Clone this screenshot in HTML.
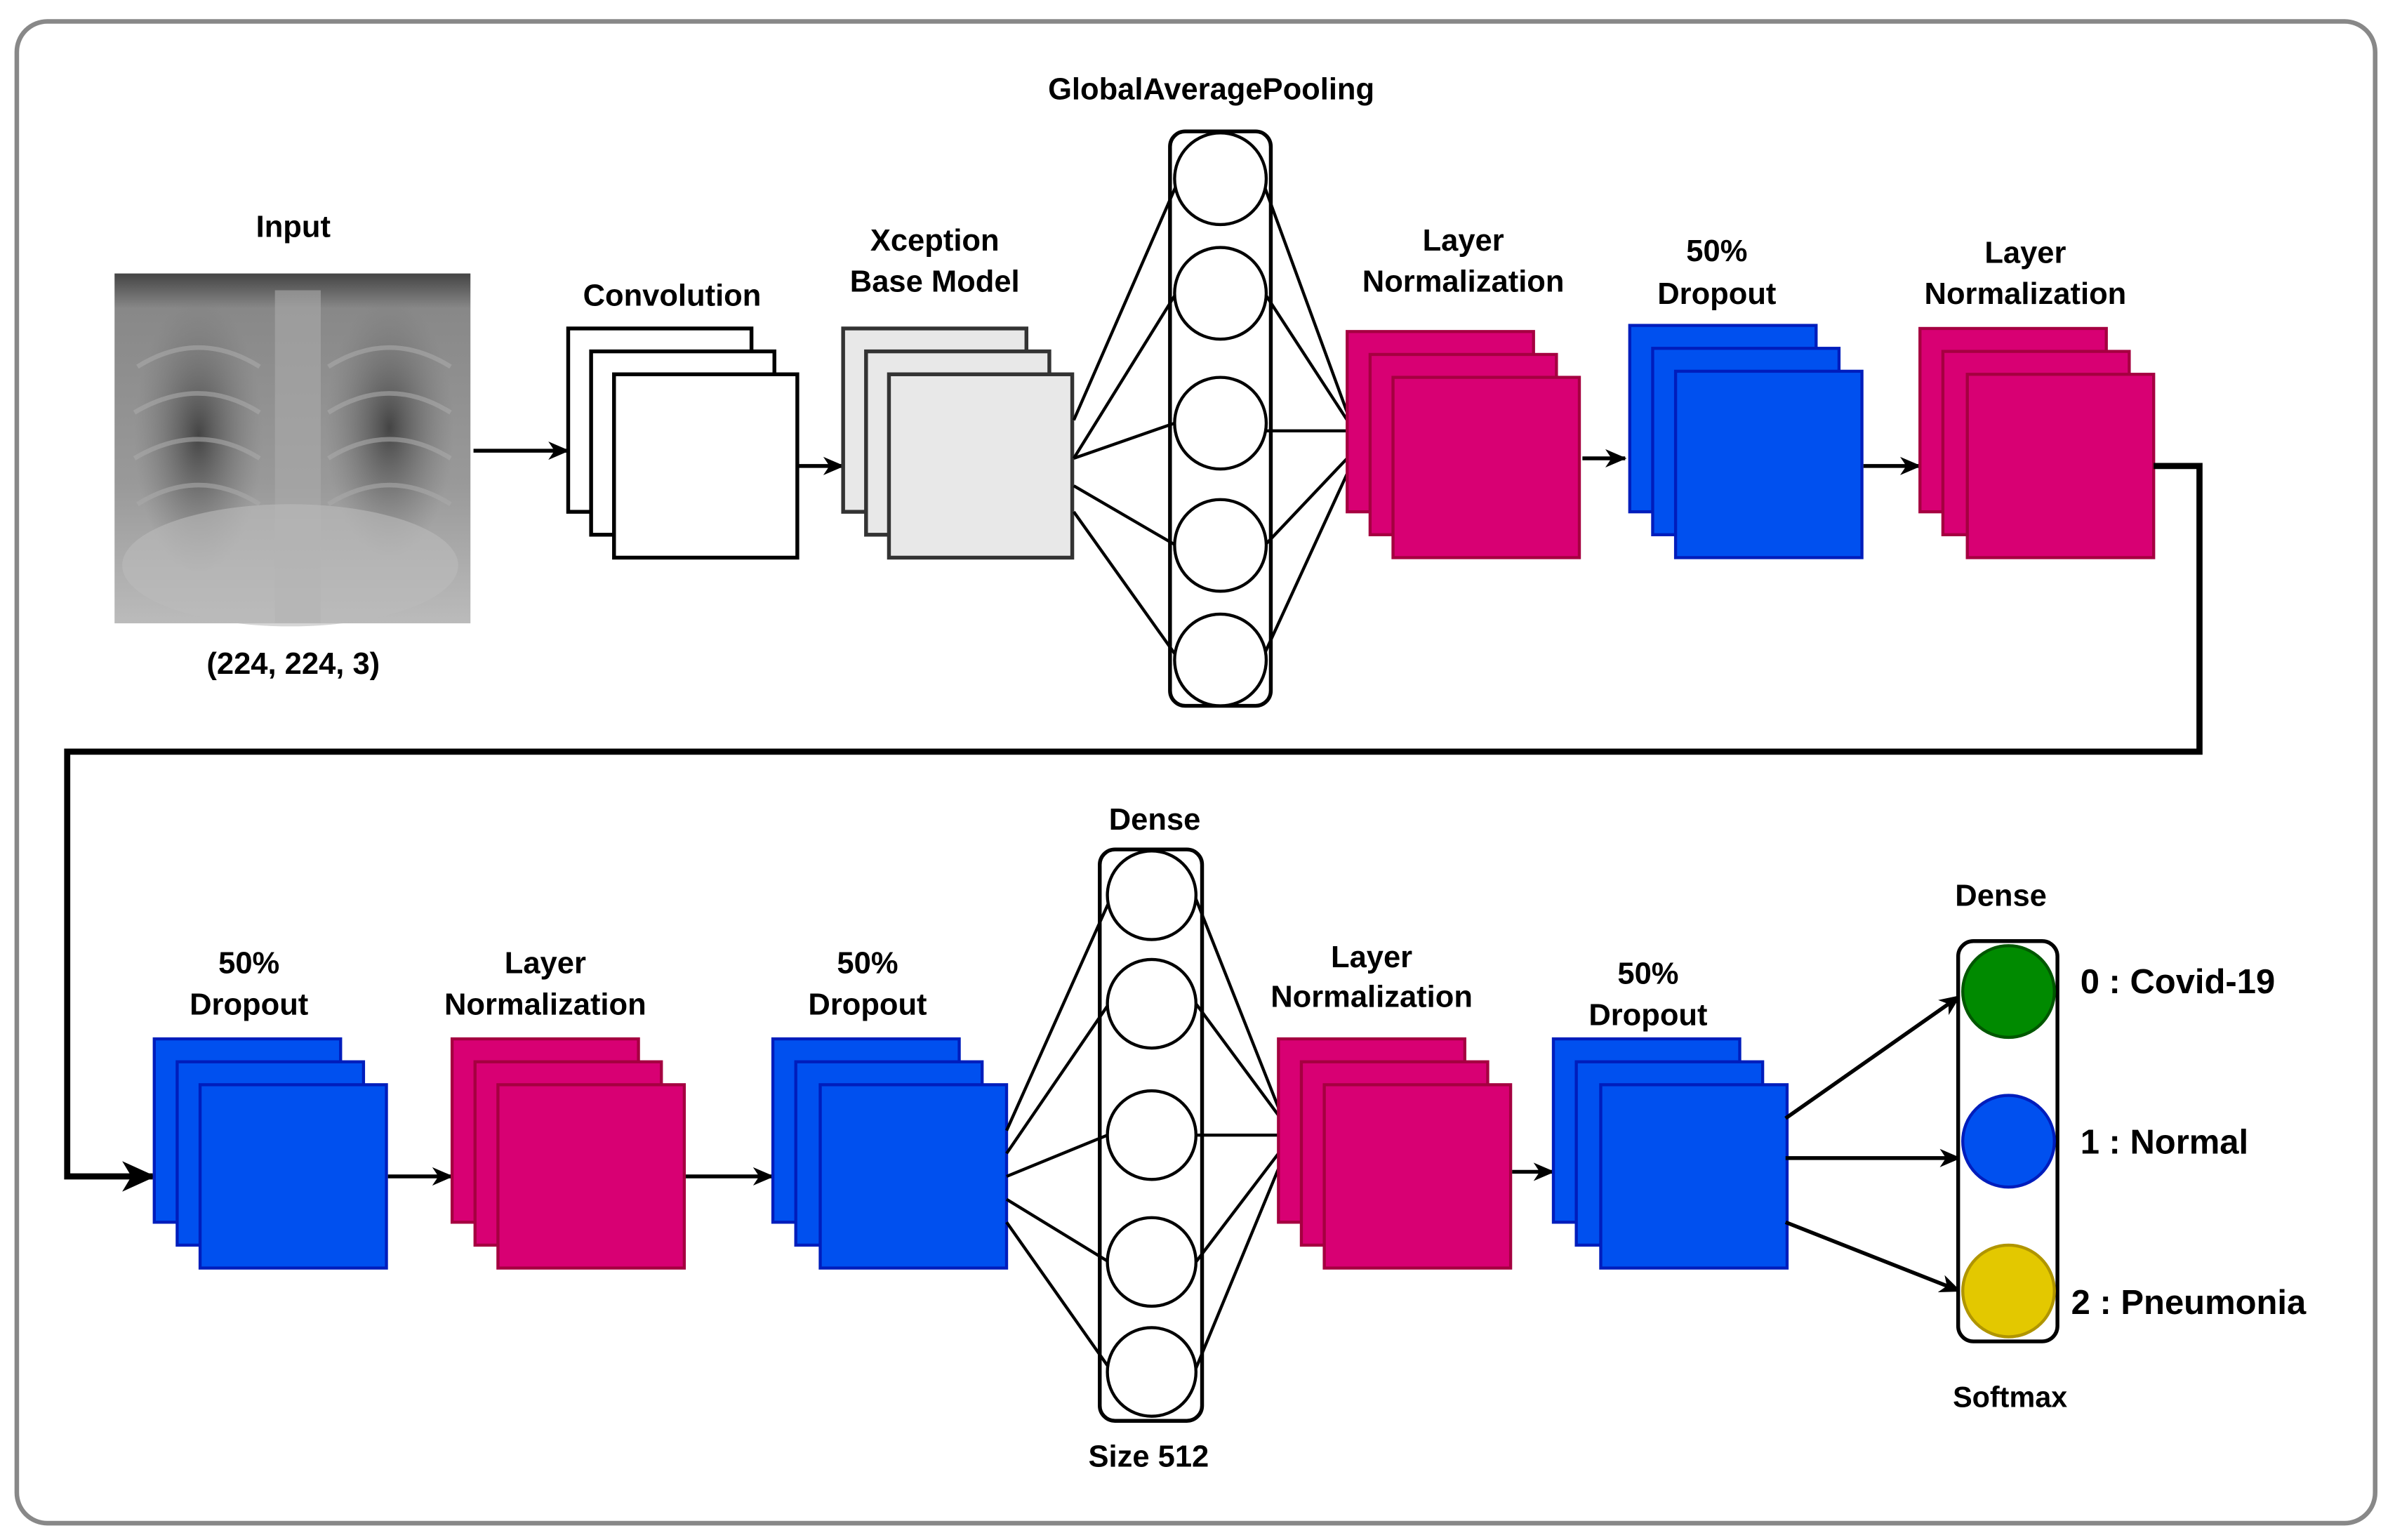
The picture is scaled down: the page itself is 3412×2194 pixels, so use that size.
<!DOCTYPE html>
<html><head><meta charset="utf-8"><style>html,body{margin:0;padding:0;background:#fff}svg{display:block}</style></head>
<body>
<svg width="3412" height="2194" viewBox="0 0 1568 1008" preserveAspectRatio="none" xmlns="http://www.w3.org/2000/svg" font-family="Liberation Sans, sans-serif" font-weight="bold" font-size="20" text-anchor="middle">
<defs>
<marker id="a" markerWidth="14" markerHeight="14" refX="13" refY="7" orient="auto" markerUnits="userSpaceOnUse"><path d="M0,1 L14,7 L0,13 L4,7 z" fill="#000"/></marker>
<marker id="b" markerWidth="22" markerHeight="22" refX="20" refY="11" orient="auto" markerUnits="userSpaceOnUse"><path d="M0,1 L22,11 L0,21 L6,11 z" fill="#000"/></marker>
<linearGradient id="xg" x1="0" y1="0" x2="0" y2="1"><stop offset="0" stop-color="#444"/><stop offset="0.1" stop-color="#888"/><stop offset="0.6" stop-color="#999"/><stop offset="1" stop-color="#bbb"/></linearGradient>
<radialGradient id="lung" cx="0.5" cy="0.5" r="0.5"><stop offset="0" stop-color="#444"/><stop offset="1" stop-color="#777" stop-opacity="0"/></radialGradient>
</defs>
<rect x="11" y="14" width="1544" height="983" rx="20" fill="#fff" stroke="#888" stroke-width="3"/>

<!-- input -->
<text x="192" y="155">Input</text>
<rect x="75" y="179" width="233" height="229" fill="url(#xg)"/>
<ellipse cx="130" cy="285" rx="42" ry="90" fill="url(#lung)"/>
<ellipse cx="255" cy="280" rx="42" ry="85" fill="url(#lung)"/>
<g stroke="#aaa" stroke-width="3" fill="none" opacity="0.6">
<path d="M90,240 Q130,215 170,240"/><path d="M88,270 Q130,245 170,270"/><path d="M88,300 Q130,275 170,300"/><path d="M90,330 Q130,305 170,330"/>
<path d="M215,240 Q255,215 295,240"/><path d="M215,270 Q255,245 295,270"/><path d="M215,300 Q255,275 295,300"/><path d="M215,330 Q255,305 295,330"/>
</g>
<rect x="180" y="190" width="30" height="218" fill="#aaa" opacity="0.6"/>
<ellipse cx="190" cy="370" rx="110" ry="40" fill="#bbb" opacity="0.6"/>
<text x="192" y="441">(224, 224, 3)</text>
<line x1="310" y1="295" x2="372" y2="295" stroke="#000" stroke-width="2.5" marker-end="url(#a)"/>

<!-- convolution -->
<text x="440" y="200">Convolution</text>
<g stroke="#000" stroke-width="2.5" fill="#fff">
<rect x="372" y="215" width="120" height="120"/><rect x="387" y="230" width="120" height="120"/><rect x="402" y="245" width="120" height="120"/>
</g>
<line x1="523" y1="305" x2="552" y2="305" stroke="#000" stroke-width="2.5" marker-end="url(#a)"/>

<!-- xception -->
<text x="612" y="164">Xception</text><text x="612" y="191">Base Model</text>
<g stroke="#333" stroke-width="2.5" fill="#e8e8e8">
<rect x="552" y="215" width="120" height="120"/><rect x="567" y="230" width="120" height="120"/><rect x="582" y="245" width="120" height="120"/>
</g>

<!-- GAP -->
<text x="793" y="65">GlobalAveragePooling</text>
<g stroke="#000" stroke-width="2" fill="none">
<line x1="703" y1="275" x2="772" y2="117"/><line x1="703" y1="300" x2="770" y2="192"/><line x1="703" y1="300" x2="769" y2="277"/><line x1="703" y1="318" x2="770" y2="357"/><line x1="703" y1="335" x2="772" y2="432"/>
<line x1="826" y1="117" x2="882" y2="270"/><line x1="828" y1="192" x2="882" y2="275"/><line x1="829" y1="282" x2="882" y2="282"/><line x1="828" y1="357" x2="882" y2="300"/><line x1="826" y1="432" x2="882" y2="310"/>
</g>
<rect x="766" y="86" width="66" height="376" rx="10" fill="none" stroke="#000" stroke-width="2.5"/>
<g stroke="#000" stroke-width="2" fill="#fff">
<circle cx="799" cy="117" r="30"/><circle cx="799" cy="192" r="30"/><circle cx="799" cy="277" r="30"/><circle cx="799" cy="357" r="30"/><circle cx="799" cy="432" r="30"/>
</g>

<!-- LN1 -->
<text x="958" y="164">Layer</text><text x="958" y="191">Normalization</text>
<g stroke="#a50040" stroke-width="2" fill="#d80073">
<rect x="882" y="217" width="122" height="118"/><rect x="897" y="232" width="122" height="118"/><rect x="912" y="247" width="122" height="118"/>
</g>
<line x1="1036" y1="300" x2="1064" y2="300" stroke="#000" stroke-width="2.5" marker-end="url(#a)"/>

<!-- Dropout1 -->
<text x="1124" y="171">50%</text><text x="1124" y="199">Dropout</text>
<g stroke="#001dbc" stroke-width="2" fill="#0050ef">
<rect x="1067" y="213" width="122" height="122"/><rect x="1082" y="228" width="122" height="122"/><rect x="1097" y="243" width="122" height="122"/>
</g>
<line x1="1220" y1="305" x2="1257" y2="305" stroke="#000" stroke-width="2.5" marker-end="url(#a)"/>

<!-- LN2 -->
<text x="1326" y="172">Layer</text><text x="1326" y="199">Normalization</text>
<g stroke="#a50040" stroke-width="2" fill="#d80073">
<rect x="1257" y="215" width="122" height="120"/><rect x="1272" y="230" width="122" height="120"/><rect x="1288" y="245" width="122" height="120"/>
</g>

<polyline points="1410,305 1440,305 1440,492 44,492 44,770 100,770" fill="none" stroke="#000" stroke-width="4" marker-end="url(#b)"/>

<!-- row 2 -->
<text x="163" y="637">50%</text><text x="163" y="664">Dropout</text>
<g stroke="#001dbc" stroke-width="2" fill="#0050ef">
<rect x="101" y="680" width="122" height="120"/><rect x="116" y="695" width="122" height="120"/><rect x="131" y="710" width="122" height="120"/>
</g>
<line x1="254" y1="770" x2="296" y2="770" stroke="#000" stroke-width="2.5" marker-end="url(#a)"/>

<text x="357" y="637">Layer</text><text x="357" y="664">Normalization</text>
<g stroke="#a50040" stroke-width="2" fill="#d80073">
<rect x="296" y="680" width="122" height="120"/><rect x="311" y="695" width="122" height="120"/><rect x="326" y="710" width="122" height="120"/>
</g>
<line x1="449" y1="770" x2="506" y2="770" stroke="#000" stroke-width="2.5" marker-end="url(#a)"/>

<text x="568" y="637">50%</text><text x="568" y="664">Dropout</text>
<g stroke="#001dbc" stroke-width="2" fill="#0050ef">
<rect x="506" y="680" width="122" height="120"/><rect x="521" y="695" width="122" height="120"/><rect x="537" y="710" width="122" height="120"/>
</g>

<!-- Dense 512 -->
<text x="756" y="543">Dense</text><text x="752" y="960">Size 512</text>
<g stroke="#000" stroke-width="2" fill="none">
<line x1="659" y1="740" x2="728" y2="586"/><line x1="659" y1="755" x2="726" y2="657"/><line x1="659" y1="770" x2="725" y2="743"/><line x1="659" y1="785" x2="726" y2="826"/><line x1="659" y1="800" x2="728" y2="898"/>
<line x1="782" y1="586" x2="837" y2="725"/><line x1="783" y1="657" x2="837" y2="730"/><line x1="783" y1="743" x2="837" y2="743"/><line x1="783" y1="826" x2="837" y2="755"/><line x1="782" y1="898" x2="837" y2="765"/>
</g>
<rect x="720" y="556" width="67" height="374" rx="10" fill="none" stroke="#000" stroke-width="2.5"/>
<g stroke="#000" stroke-width="2" fill="#fff">
<circle cx="754" cy="586" r="29"/><circle cx="754" cy="657" r="29"/><circle cx="754" cy="743" r="29"/><circle cx="754" cy="826" r="29"/><circle cx="754" cy="898" r="29"/>
</g>

<text x="898" y="633">Layer</text><text x="898" y="659">Normalization</text>
<g stroke="#a50040" stroke-width="2" fill="#d80073">
<rect x="837" y="680" width="122" height="120"/><rect x="852" y="695" width="122" height="120"/><rect x="867" y="710" width="122" height="120"/>
</g>
<line x1="990" y1="767" x2="1017" y2="767" stroke="#000" stroke-width="2.5" marker-end="url(#a)"/>

<text x="1079" y="644">50%</text><text x="1079" y="671">Dropout</text>
<g stroke="#001dbc" stroke-width="2" fill="#0050ef">
<rect x="1017" y="680" width="122" height="120"/><rect x="1032" y="695" width="122" height="120"/><rect x="1048" y="710" width="122" height="120"/>
</g>
<g stroke="#000" stroke-width="2.5" marker-end="url(#a)">
<line x1="1169" y1="732" x2="1283" y2="652"/><line x1="1169" y1="758" x2="1283" y2="758"/><line x1="1169" y1="800" x2="1283" y2="845"/>
</g>

<!-- softmax -->
<text x="1310" y="593">Dense</text><text x="1316" y="921" font-size="19">Softmax</text>
<rect x="1282" y="616" width="65" height="262" rx="10" fill="#fff" stroke="#000" stroke-width="2.5"/>
<circle cx="1315" cy="649" r="30" fill="#008a00" stroke="#005700" stroke-width="2"/>
<circle cx="1315" cy="747" r="30" fill="#0050ef" stroke="#001dbc" stroke-width="2"/>
<circle cx="1315" cy="845" r="30" fill="#e3c800" stroke="#b09500" stroke-width="2"/>
<g text-anchor="start" font-size="22.5">
<text x="1362" y="650">0 : Covid-19</text><text x="1362" y="755">1 : Normal</text><text x="1356" y="860">2 : Pneumonia</text>
</g>
</svg>
</body></html>
